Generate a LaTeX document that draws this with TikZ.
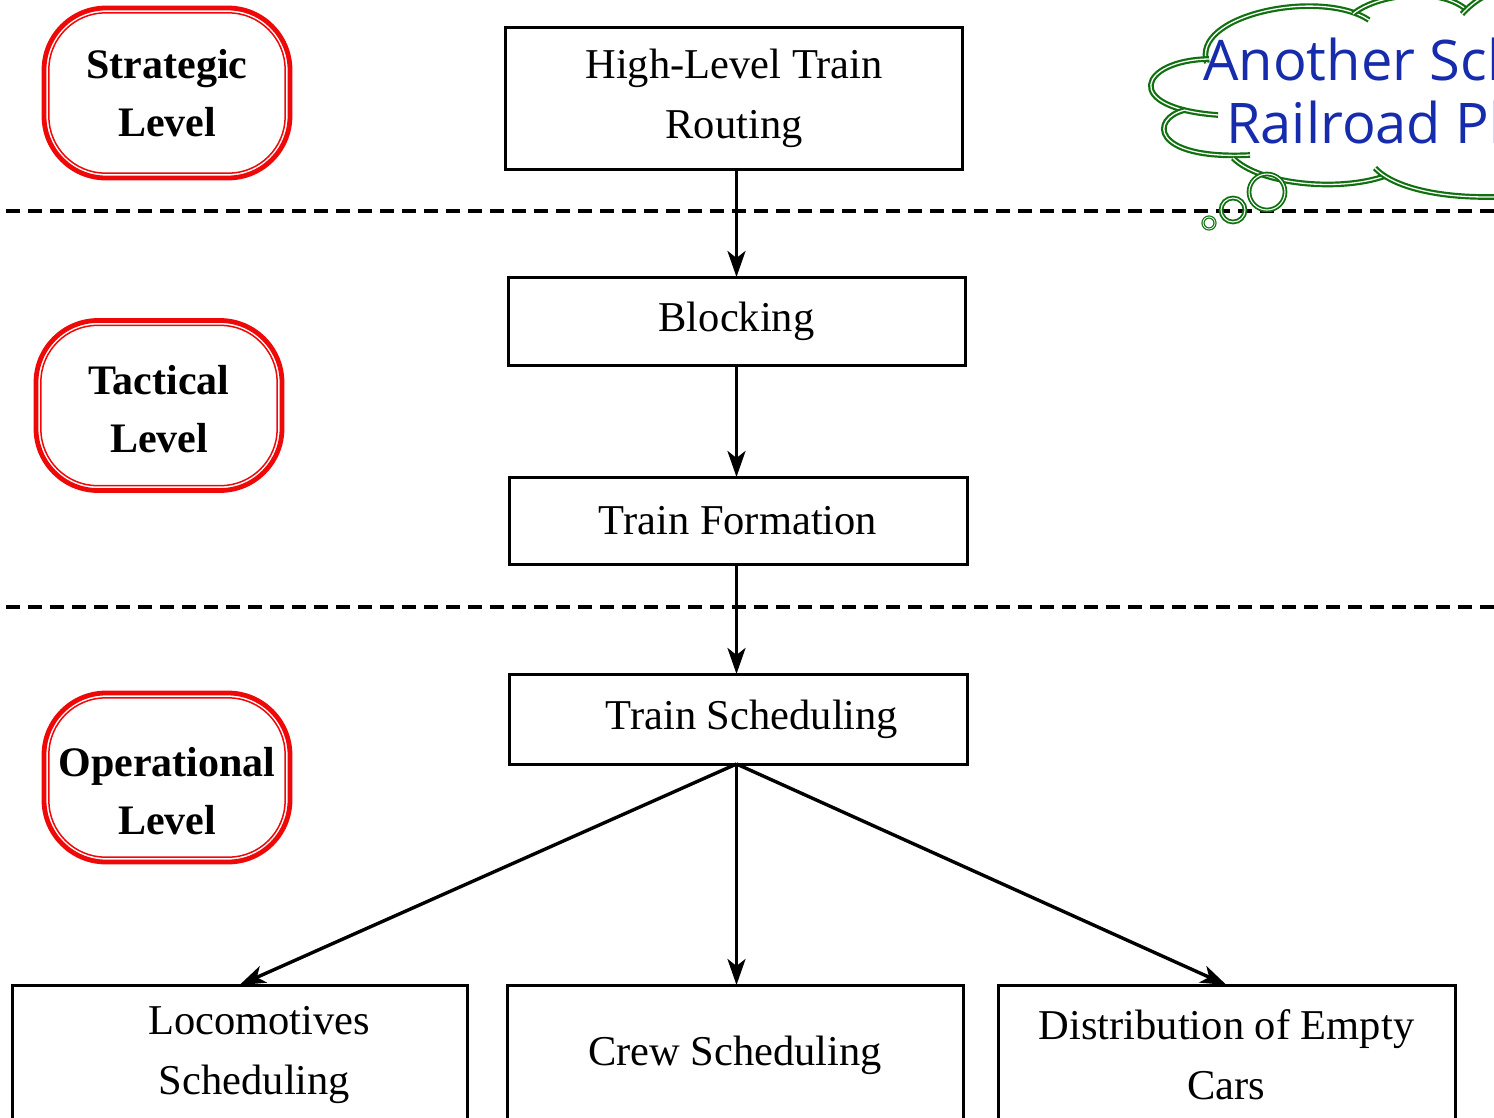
\documentclass[tikz,border=0pt]{standalone}
\usepackage{fontspec}
\setmainfont{Liberation Serif}
\newfontfamily\cloudfont{Open Sans}
\usetikzlibrary{arrows.meta,calc}
\definecolor{lvlred}{RGB}{238,8,8}
\definecolor{cloudgreen}{RGB}{16,112,16}
\definecolor{cloudblue}{RGB}{22,44,172}

\begin{document}
\begin{tikzpicture}[x=1pt,y=-1pt,
  stage/.style={draw=black, line width=3pt, minimum width=457pt, inner sep=0pt,
    outer sep=0pt, align=center, font=\fontsize{42.5}{60}\selectfont},
  level/.style={draw=lvlred, line width=4.8pt, rounded corners=62pt,
    minimum width=246pt, minimum height=170pt, inner sep=0pt, outer sep=0pt,
    align=center, font=\bfseries\fontsize{42}{58}\selectfont},
  levelin/.style={draw=lvlred, line width=1.5pt, rounded corners=57pt},
  sep/.style={line width=3.4pt, dash pattern=on 14pt off 8pt, dash phase=16pt},
  flow/.style={line width=3.4pt, -{Stealth[length=26pt,width=18pt,inset=7pt]}},
  puff/.style={draw=cloudgreen, line width=2.2pt, double=white, double distance=1.3pt},
  bubble/.style={draw=cloudgreen, line width=1.8pt, double=white, double distance=1.1pt},
]
\useasboundingbox (0,0) rectangle (1494,1117);
\clip (0,0) rectangle (1494,1117);

% planning levels
\node[level] (strat) at (167,93) {Strategic\\Level};
\node[level] (tact) at (159,405.5) {\rule{0pt}{36pt}Tactical\\Level};
\node[level, minimum height=169pt] (oper) at (167,777.5) {\rule{0pt}{56pt}Operational\\Level};
\foreach \n in {strat,tact,oper}
  \draw[levelin] ($(\n.south west)+(4.8pt,4.8pt)$) rectangle ($(\n.north east)-(4.8pt,4.8pt)$);

% separators between levels
\coordinate (s1l) at (0,211);   \coordinate (s1r) at (1494,211);
\coordinate (s2l) at (0,607);   \coordinate (s2r) at (1494,607);
\draw[sep] (s1l) -- (s1r);
\draw[sep] (s2l) -- (s2r);

% planning stages
\node[stage, minimum height=142pt] (route) at (734,98) {High-Level Train\\Routing};
\node[stage, minimum height=88pt] (block) at (736.5,321) {Blocking};
\node[stage, minimum height=87pt, minimum width=458pt] (form) at (738,520.5) {Train Formation};
\node[stage, minimum height=90pt, minimum width=458pt] (sched) at (738,719) {\hspace*{28pt}Train Scheduling};
\node[stage, minimum height=140pt, minimum width=455pt] (loco) at (239.5,1055)
  {\hspace*{39pt}Locomotives\\\hspace*{30pt}Scheduling};
\node[stage, minimum height=140pt, minimum width=456pt] (crew) at (735,1055) {Crew Scheduling};
\node[stage, minimum height=140pt] (dist) at (1226.5,1055) {Distribution of Empty\\Cars};

% flow between stages, the main column kept vertical
\draw[flow] (block.north |- route.south) -- (block.north);
\draw[flow] (block.south) -- (block.south |- form.north);
\draw[flow] (block.south |- form.south) -- (block.south |- sched.north);
\draw[flow] (block.south |- sched.south) -- (loco.north);
\draw[flow] (block.south |- sched.south) -- (block.south |- crew.north);
\draw[flow] (block.south |- sched.south) -- (dist.north);

% thought cloud
\draw[puff] (1207,63) .. controls (1190,15) and (1320,-12) .. (1369,20);
\draw[puff] (1353,14) .. controls (1375,-5) and (1440,-15) .. (1468,11);
\draw[puff] (1462,14) .. controls (1475,0) and (1490,-10) .. (1520,-15);
\draw[puff] (1209,59) .. controls (1140,60) and (1120,108) .. (1218,115);
\draw[puff] (1185,110) .. controls (1150,118) and (1150,160) .. (1250,155);
\draw[puff] (1233,158) .. controls (1260,185) and (1340,192) .. (1385,176);
\draw[puff] (1375,168) .. controls (1400,195) and (1480,205) .. (1560,190);
\node[bubble, circle, minimum size=36pt, inner sep=0pt] (b1) at (1267,192) {};
\node[bubble, circle, minimum size=24pt, inner sep=0pt] (b2) at (1233,210) {};
\node[bubble, circle, minimum size=12pt, inner sep=0pt, line width=1.2pt, double distance=0.8pt] (b3) at (1209,223) {};

\node[anchor=base west, inner sep=0pt, text=cloudblue,
  font=\cloudfont\fontsize{56}{60}\selectfont] (c1) at (1203,80) {Another Sch};
\node[anchor=base west, inner sep=0pt, text=cloudblue,
  font=\cloudfont\fontsize{56}{60}\selectfont] (c2) at (1226,143) {Railroad Pl};
\end{tikzpicture}
\end{document}
